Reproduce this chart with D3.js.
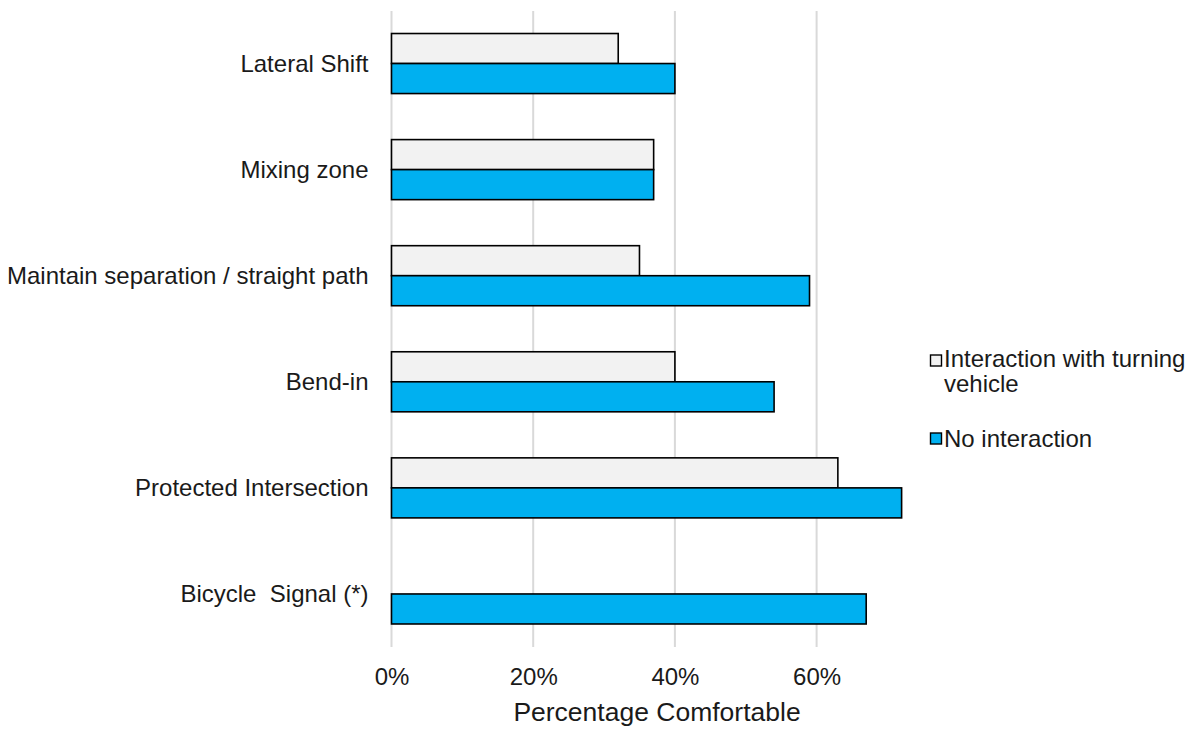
<!DOCTYPE html>
<html>
<head>
<meta charset="utf-8">
<script src="https://cdn.jsdelivr.net/npm/d3@7/dist/d3.min.js"></script>
<style>
  html, body { margin: 0; padding: 0; background: #fff; }
  svg { display: block; font-family: "Liberation Sans", Arial, sans-serif; }
  svg text { white-space: pre; }
</style>
</head>
<body>
<svg id="chart" width="1199" height="730"></svg>
<script>
// Facility types, top to bottom
const categories = [
  "Lateral Shift",
  "Mixing zone",
  "Maintain separation / straight path",
  "Bend-in",
  "Protected Intersection",
  "Bicycle  Signal (*)"
];
// Share of respondents comfortable, per scenario (null = not surveyed)
const turningValues = [0.32, 0.37, 0.35, 0.40, 0.63, null];
const noInteractionValues = [0.40, 0.37, 0.59, 0.54, 0.72, 0.67];

const seriesNames = ["Interaction with turning vehicle", "No interaction"];
const seriesColors = ["#F2F2F2", "#00B0F0"];
const tickValues = [0, 0.2, 0.4, 0.6];
const axisTitle = "Percentage Comfortable";

const FONT = "Liberation Sans, Arial, sans-serif";
const TEXT = "#1a1a1a";

const svg = d3.select("#chart");

const plot = { left: 391.5, right: 958.3, top: 10.5, bottom: 647 };

const x = d3.scaleLinear().domain([0, 0.8]).range([plot.left, plot.right]);
const y = d3.scaleBand()
  .domain(categories)
  .range([plot.top, plot.bottom])
  .paddingInner(0.434)
  .paddingOuter(0.217);
const sub = d3.scaleBand().domain([0, 1]).range([0, y.bandwidth()]);

// vertical gridlines
svg.append("g")
  .selectAll("line")
  .data(tickValues)
  .join("line")
  .attr("x1", d => x(d)).attr("x2", d => x(d))
  .attr("y1", 11).attr("y2", 647)
  .attr("stroke", "#d9d9d9")
  .attr("stroke-width", 2);

// bars
const rows = categories.map((c, i) => ({ cat: c, vals: [turningValues[i], noInteractionValues[i]] }));
const groups = svg.append("g").selectAll("g")
  .data(rows)
  .join("g")
  .attr("transform", d => `translate(0,${y(d.cat)})`);

groups.selectAll("rect")
  .data(d => d.vals.map((v, k) => ({ v, k })).filter(e => e.v != null))
  .join("rect")
  .attr("x", x(0))
  .attr("y", d => sub(d.k))
  .attr("width", d => x(d.v) - x(0))
  .attr("height", sub.bandwidth())
  .attr("fill", d => seriesColors[d.k])
  .attr("stroke", "#000")
  .attr("stroke-width", 1.6);

// x axis tick labels
const xAxis = d3.axisBottom(x)
  .tickValues(tickValues)
  .tickFormat(d3.format(".0%"))
  .tickSize(0)
  .tickPadding(0);
const gx = svg.append("g").attr("transform", "translate(0,685)").call(xAxis);
gx.select(".domain").remove();
gx.selectAll("text")
  .attr("dy", 0)
  .attr("font-size", 24)
  .attr("fill", TEXT)
  .attr("font-family", FONT);

// axis title
svg.append("text")
  .attr("x", 657)
  .attr("y", 721)
  .attr("text-anchor", "middle")
  .attr("font-size", 26.5)
  .attr("font-family", FONT)
  .attr("fill", TEXT)
  .text(axisTitle);

// category labels
const yAxis = d3.axisLeft(y).tickSize(0).tickPadding(23);
const gy = svg.append("g").attr("transform", `translate(${plot.left},0)`).call(yAxis);
gy.select(".domain").remove();
gy.selectAll("text")
  .attr("dy", "0.35em")
  .attr("font-size", 24)
  .attr("fill", TEXT)
  .attr("font-family", FONT);

// legend
const legend = svg.append("g");
const legendItems = [
  { name: seriesNames[0], color: seriesColors[0], boxY: 355, baseY: 367, lines: ["Interaction with turning", "vehicle"] },
  { name: seriesNames[1], color: seriesColors[1], boxY: 433, baseY: 446.5, lines: ["No interaction"] }
];
legendItems.forEach(item => {
  legend.append("rect")
    .attr("x", 930.5).attr("y", item.boxY)
    .attr("width", 11).attr("height", 11)
    .attr("fill", item.color)
    .attr("stroke", "#000")
    .attr("stroke-width", 1.4);
  const t = legend.append("text")
    .attr("x", 944)
    .attr("y", item.baseY)
    .attr("font-size", 24)
    .attr("font-family", FONT)
    .attr("fill", TEXT);
  item.lines.forEach((ln, i) => {
    t.append("tspan").attr("x", 944).attr("dy", i === 0 ? 0 : 24.7).text(ln);
  });
});
</script>
</body>
</html>
